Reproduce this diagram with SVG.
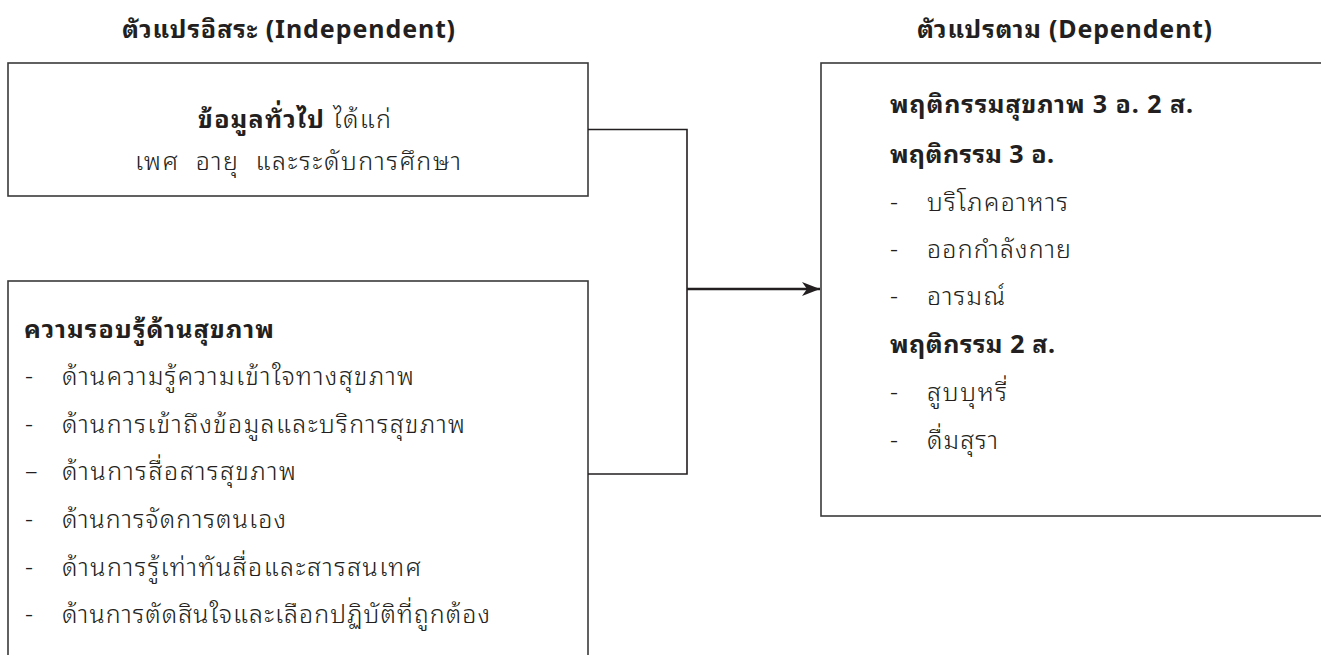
<svg xmlns="http://www.w3.org/2000/svg" width="1321" height="655" viewBox="0 0 1321 655">
<style>
  .t { font-family: "Noto Sans Thai Looped", "Noto Sans Thai", "Noto Sans", "DejaVu Sans", sans-serif; font-size: 25px; fill: #231f20; }
  .r { font-weight: 300; }
  .b { font-weight: bold; }
  .box { fill: none; stroke: #3a3a3a; stroke-width: 1.6; }
  .conn { fill: none; stroke: #231f20; stroke-width: 1.6; }
  .arrow { fill: none; stroke: #231f20; stroke-width: 2.6; }
</style>
<defs>
  <marker id="ah" markerWidth="20" markerHeight="14" refX="18" refY="7" orient="auto" markerUnits="userSpaceOnUse">
    <path d="M0,0 L18,7 L0,14 L5,7 Z" fill="#231f20"/>
  </marker>
</defs>
<rect width="1321" height="655" fill="#ffffff"/>

<text class="t b" x="122" y="38" textLength="333" lengthAdjust="spacing">ตัวแปรอิสระ (Independent)</text>
<text class="t b" x="917" y="38" textLength="295" lengthAdjust="spacing">ตัวแปรตาม (Dependent)</text>

<g id="general">
  <rect class="box" x="8" y="63" width="580" height="133"/>
  <text class="t r" x="198" y="128" textLength="193" lengthAdjust="spacing"><tspan class="b">ข้อมูลทั่วไป</tspan> ได้แก่</text>
  <text class="t r" x="135" y="170" textLength="326" lengthAdjust="spacing" xml:space="preserve">เพศ  อายุ  และระดับการศึกษา</text>
</g>

<g id="literacy">
  <rect class="box" x="8" y="281" width="580" height="390"/>
  <text class="t b" x="24" y="338" textLength="250" lengthAdjust="spacing">ความรอบรู้ด้านสุขภาพ</text>
  <text class="t r" x="25" y="385">-</text><text class="t r" x="62" y="385" textLength="352" lengthAdjust="spacing">ด้านความรู้ความเข้าใจทางสุขภาพ</text>
  <text class="t r" x="25" y="433">-</text><text class="t r" x="62" y="433" textLength="403" lengthAdjust="spacing">ด้านการเข้าถึงข้อมูลและบริการสุขภาพ</text>
  <text class="t r" x="25" y="480">–</text><text class="t r" x="62" y="480" textLength="234" lengthAdjust="spacing">ด้านการสื่อสารสุขภาพ</text>
  <text class="t r" x="25" y="528">-</text><text class="t r" x="62" y="528" textLength="224" lengthAdjust="spacing">ด้านการจัดการตนเอง</text>
  <text class="t r" x="25" y="576">-</text><text class="t r" x="62" y="576" textLength="359" lengthAdjust="spacing">ด้านการรู้เท่าทันสื่อและสารสนเทศ</text>
  <text class="t r" x="25" y="623">-</text><text class="t r" x="62" y="623" textLength="428" lengthAdjust="spacing">ด้านการตัดสินใจและเลือกปฏิบัติที่ถูกต้อง</text>
</g>

<g id="behavior">
  <rect class="box" x="821" y="63" width="520" height="453"/>
  <text class="t b" x="890" y="113" textLength="303" lengthAdjust="spacing">พฤติกรรมสุขภาพ 3 อ. 2 ส.</text>
  <text class="t b" x="890" y="163" textLength="164" lengthAdjust="spacing">พฤติกรรม 3 อ.</text>
  <text class="t r" x="890" y="211">-</text><text class="t r" x="927" y="211" textLength="141" lengthAdjust="spacing">บริโภคอาหาร</text>
  <text class="t r" x="890" y="258">-</text><text class="t r" x="927" y="258" textLength="144" lengthAdjust="spacing">ออกกำลังกาย</text>
  <text class="t r" x="890" y="305">-</text><text class="t r" x="927" y="305" textLength="78" lengthAdjust="spacing">อารมณ์</text>
  <text class="t b" x="890" y="353" textLength="165" lengthAdjust="spacing">พฤติกรรม 2 ส.</text>
  <text class="t r" x="890" y="401">-</text><text class="t r" x="927" y="401" textLength="80" lengthAdjust="spacing">สูบบุหรี่</text>
  <text class="t r" x="890" y="449">-</text><text class="t r" x="927" y="449" textLength="71" lengthAdjust="spacing">ดื่มสุรา</text>
</g>

<g id="connectors">
  <polyline class="conn" points="588,129.5 687,129.5 687,474 588,474"/>
  <line class="arrow" x1="687" y1="289" x2="820" y2="289" marker-end="url(#ah)"/>
</g>
</svg>
